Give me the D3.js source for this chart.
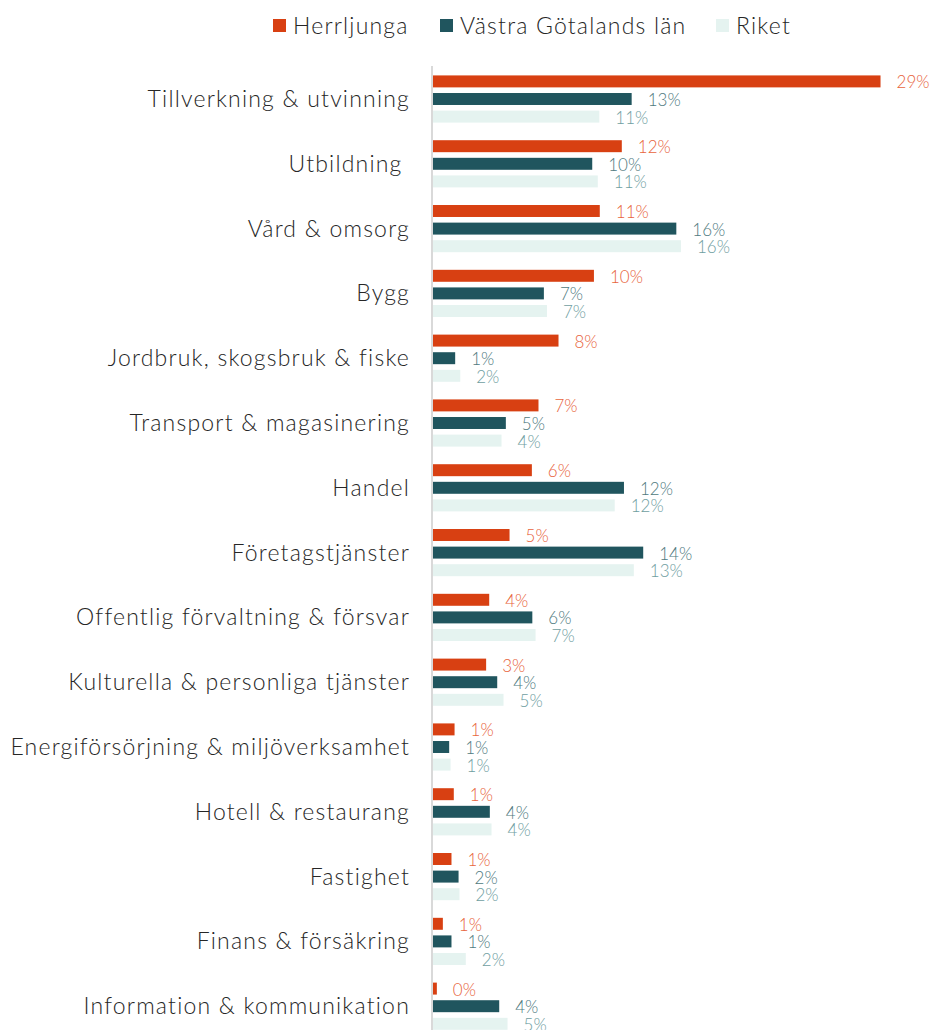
<!DOCTYPE html>
<html>
<head>
<meta charset="utf-8">
<script src="https://cdn.jsdelivr.net/npm/d3@7"></script>
<style>
  body { margin: 0; background: #fff; }
  svg text { font-family: Lato, "Open Sans", sans-serif; }
</style>
</head>
<body>
<div id="chart"></div>
<script>
// categories, top to bottom
var categories = [
  "Tillverkning & utvinning", "Utbildning ", "Vård & omsorg", "Bygg",
  "Jordbruk, skogsbruk & fiske", "Transport & magasinering", "Handel",
  "Företagstjänster", "Offentlig förvaltning & försvar",
  "Kulturella & personliga tjänster", "Energiförsörjning & miljöverksamhet",
  "Hotell & restaurang", "Fastighet", "Finans & försäkring",
  "Information & kommunikation"
];

var seriesNames = ["Herrljunga", "Västra Götalands län", "Riket"];

// shares in %
var herrljunga = [29.06, 12.26, 10.83, 10.45, 8.15, 6.85, 6.42, 4.97, 3.65, 3.45, 1.4, 1.35, 1.2, 0.64, 0.25];
var vastra = [12.9, 10.34, 15.8, 7.2, 1.44, 4.73, 12.4, 13.65, 6.45, 4.17, 1.05, 3.69, 1.66, 1.2, 4.3];
var riket = [10.8, 10.7, 16.1, 7.4, 1.77, 4.45, 11.8, 13.04, 6.66, 4.58, 1.14, 3.8, 1.72, 2.13, 4.84];

var barColors = ["#d84012", "#20555e", "#e5f3f0"];
var labelColors = ["#e8643c", "#4f7a80", "#6f9ea1"];

var width = 932, height = 1030;

var svg = d3.select("#chart").append("svg")
  .attr("width", width)
  .attr("height", height);

var data = categories.map(function (c, i) {
  return { cat: c, values: [herrljunga[i], vastra[i], riket[i]] };
});

var x = d3.scaleLinear().domain([0, 30]).range([433, 433 + 30 * 15.4]);

var y = d3.scaleBand()
  .domain(categories)
  .range([66.6, 1038.6])
  .paddingInner(0.185)
  .paddingOuter(0.0925);

var ySub = d3.scaleBand()
  .domain([0, 1, 2])
  .range([0, y.bandwidth()])
  .paddingInner(0.32)
  .paddingOuter(0.16);

// axis line
svg.append("line")
  .attr("x1", 432).attr("x2", 432)
  .attr("y1", 66).attr("y2", height)
  .attr("stroke", "#d9d9d9")
  .attr("stroke-width", 2);

var groups = svg.selectAll("g.cat")
  .data(data)
  .join("g")
  .attr("class", "cat")
  .attr("transform", function (d) { return "translate(0," + y(d.cat) + ")"; });

groups.selectAll("rect")
  .data(function (d) { return d.values; })
  .join("rect")
  .attr("x", x(0))
  .attr("y", function (d, i) { return ySub(i); })
  .attr("width", function (d) { return x(d) - x(0); })
  .attr("height", ySub.bandwidth())
  .attr("fill", function (d, i) { return barColors[i]; });

groups.selectAll("text.val")
  .data(function (d) { return d.values; })
  .join("text")
  .attr("class", "val")
  .attr("x", function (d) { return x(d) + 16; })
  .attr("y", function (d, i) { return ySub(i) + ySub.bandwidth() / 2 + 7; })
  .attr("font-size", 17)
  .attr("font-weight", 300)
  .attr("fill", function (d, i) { return labelColors[i]; })
  .text(function (d) { return Math.round(d) + "%"; });

// category labels
svg.append("g").selectAll("text")
  .data(categories)
  .join("text")
  .attr("x", 410)
  .attr("y", function (d) { return y(d) + y.bandwidth() / 2 + 8; })
  .attr("text-anchor", "end")
  .attr("font-size", 23)
  .attr("letter-spacing", 1.2)
  .attr("font-weight", 300)
  .attr("fill", "#262626")
  .style("white-space", "pre")
  .text(function (d) { return d; });

// legend
var legendX = [273, 440, 716];
var legend = svg.append("g").selectAll("g")
  .data(seriesNames)
  .join("g")
  .attr("transform", function (d, i) { return "translate(" + legendX[i] + ",19)"; });

legend.append("rect")
  .attr("width", 13).attr("height", 13)
  .attr("fill", function (d, i) { return barColors[i]; });

legend.append("text")
  .attr("x", 20)
  .attr("y", 15)
  .attr("font-size", 23)
  .attr("letter-spacing", 1.2)
  .attr("font-weight", 300)
  .attr("fill", "#262626")
  .text(function (d) { return d; });
</script>
</body>
</html>
